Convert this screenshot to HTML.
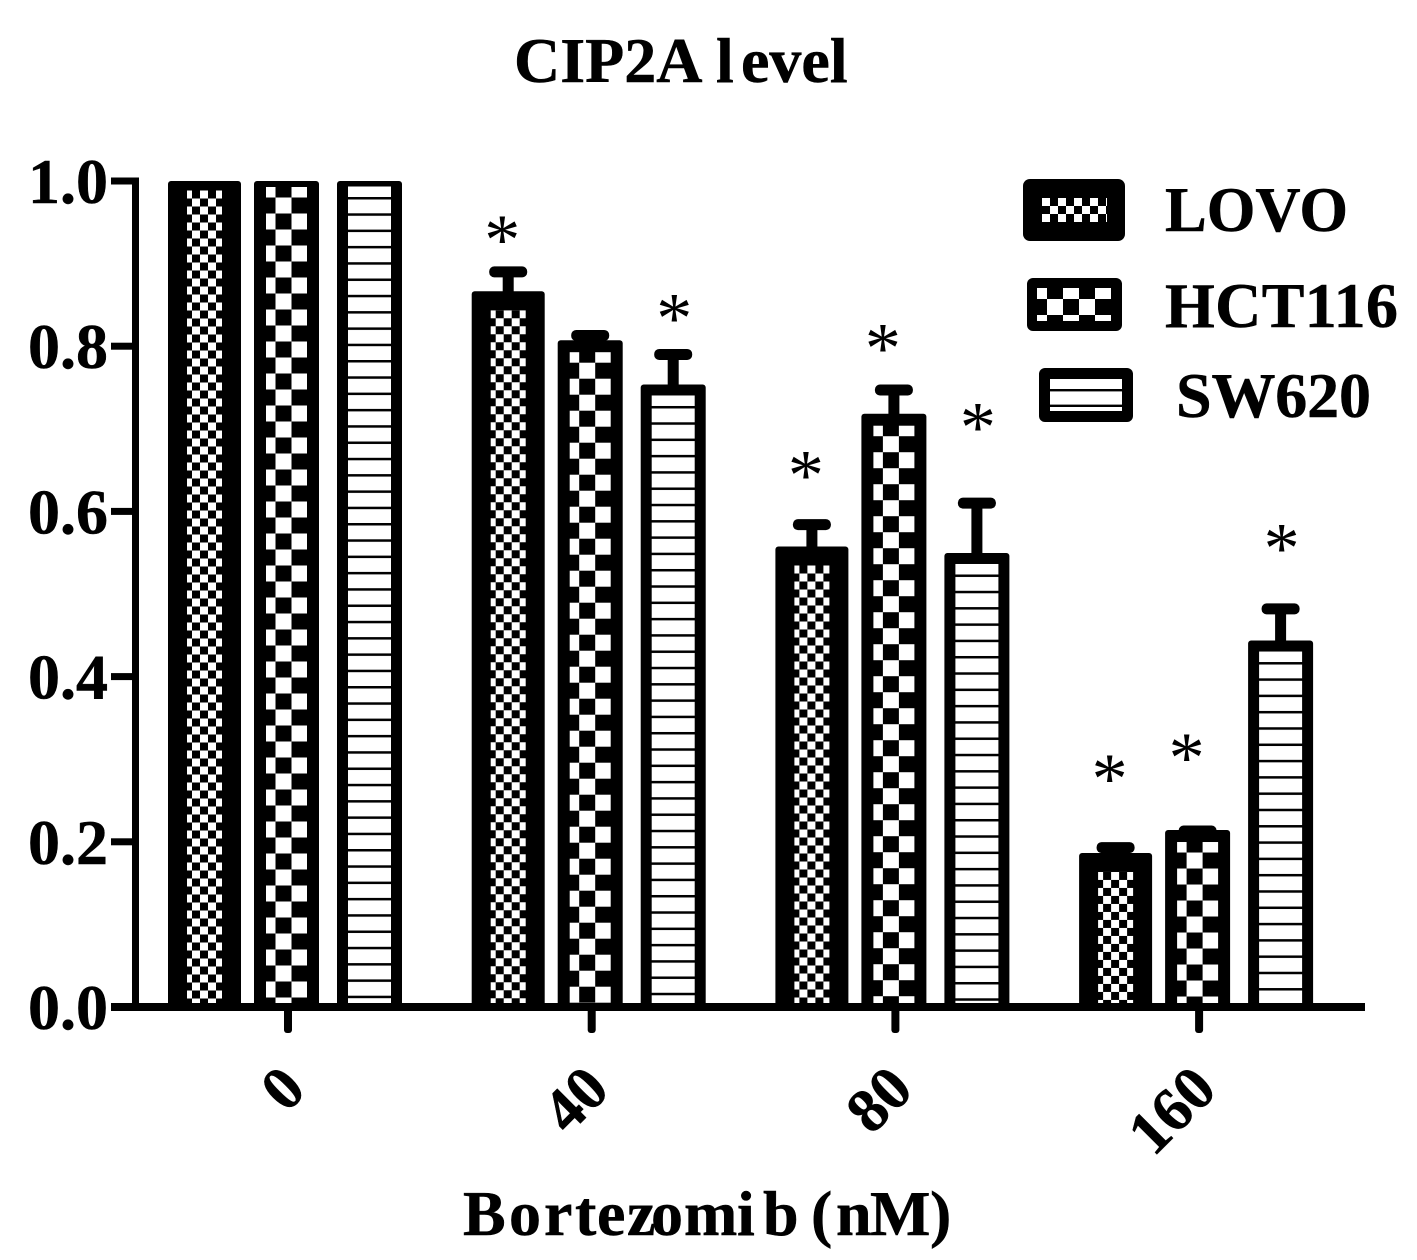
<!DOCTYPE html>
<html>
<head>
<meta charset="utf-8">
<title>CIP2A level</title>
<style>
html,body{margin:0;padding:0;background:#fff;}
svg{display:block;}
text{font-family:"Liberation Serif",serif;font-weight:bold;fill:#000;stroke:#000;stroke-width:0.5px;}
</style>
</head>
<body>
<svg id="chart" xmlns="http://www.w3.org/2000/svg" width="1417" height="1260" viewBox="0 0 1417 1260">
  <defs id="defs">
    <pattern id="legend-check-small" patternUnits="userSpaceOnUse" x="1042" y="198" width="16" height="16">
      <rect width="16" height="16" fill="#fff"/><rect x="8" width="8" height="8" fill="#000"/><rect y="8" width="8" height="8" fill="#000"/>
    </pattern>
    <pattern id="legend-check-large" patternUnits="userSpaceOnUse" x="1031" y="283" width="32" height="32">
      <rect width="32" height="32" fill="#fff"/><rect x="16" width="16" height="16" fill="#000"/><rect y="16" width="16" height="16" fill="#000"/>
    </pattern>
  </defs>
  <rect width="1417" height="1260" fill="#fff"/>
  <text y="82" font-size="64"><tspan x="514">CIP2A </tspan><tspan x="716">l</tspan><tspan x="741">evel</tspan></text>
  <g id="bars"></g>
  <g id="axes"></g>
  <g id="stars"></g>
  <text x="463 509 544 575 597 627 651 684 737 763 790 811 836 870 930" y="1235" font-size="64">Bortezomib (nM)</text>

  <g>
    <g>
      <rect x="1023" y="179" width="102" height="62" rx="7" fill="#000"/>
      <rect x="1042" y="198" width="65" height="24" fill="url(#legend-check-small)"/>
      <text x="1165" y="231" font-size="64" textLength="183" lengthAdjust="spacingAndGlyphs">LOVO</text>
    </g>
    <g>
      <rect x="1027" y="278" width="95" height="53" rx="6" fill="#000"/>
      <rect x="1037" y="288" width="74" height="33" fill="url(#legend-check-large)"/>
      <text x="1165" y="327" font-size="64" textLength="233" lengthAdjust="spacing">HCT116</text>
    </g>
    <g>
      <rect x="1039" y="368" width="94" height="54" rx="6" fill="#000"/>
      <rect x="1050" y="379" width="72" height="32" fill="#fff"/>
      <rect x="1050" y="389" width="72" height="2.4" fill="#000"/>
      <rect x="1050" y="404.6" width="72" height="2.4" fill="#000"/>
      <text x="1176" y="417" font-size="64" textLength="195" lengthAdjust="spacing">SW620</text>
    </g>
  </g>
</svg>
<script>
// ---- data ----
var doses = ['0', '40', '80', '160'];
var seriesNames = ['LOVO', 'HCT116', 'SW620'];
var lovoMeans = [1, 0.855, 0.546, 0.175];
var hct116Means = [1, 0.80, 0.711, 0.207];
var sw620Means = [1, 0.747, 0.543, 0.437];
var lovoErrors = [0, 0.035, 0.038, 0.018];
var hct116Errors = [0, 0.013, 0.036, 0.006];
var sw620Errors = [0, 0.043, 0.067, 0.045];
// height of each "*" marker on the y scale; null = no marker
var lovoStars = [null, 0.938, 0.653, 0.286];
var hct116Stars = [null, null, 0.807, 0.311];
var sw620Stars = [null, 0.843, 0.711, 0.565];
var yTickLabels = ['0.0', '0.2', '0.4', '0.6', '0.8', '1.0'];

// ---- layout ----
var NS = 'http://www.w3.org/2000/svg';
var means = [lovoMeans, hct116Means, sw620Means];
var errors = [lovoErrors, hct116Errors, sw620Errors];
var stars = [lovoStars, hct116Stars, sw620Stars];
var slug = ['lovo', 'hct116', 'sw620'];
var style = {
  width: [73, 65, 65],
  stroke: [19, 12, 11],
  offset: [-83.5, -1.5, 81.5],
  starShift: [-6, -11, 1]
};
var plot = { y0: 1007, y1: 181, xFirst: 288, xStep: 303.7 };

function yScale(v) { return plot.y0 - v * (plot.y0 - plot.y1); }
function xGroup(i) { return plot.xFirst + i * plot.xStep; }
function xBar(i, s) { return xGroup(i) + style.offset[s]; }

function make(tag, attrs, parent) {
  var el = document.createElementNS(NS, tag);
  for (var k in attrs) el.setAttribute(k, attrs[k]);
  parent.appendChild(el);
  return el;
}

var defs = document.getElementById('defs');
function barPattern(s, i, left, top) {
  var id = 'fill-' + s + '-' + i;
  var p;
  if (s === 0 || s === 1) {
    var c = s === 0 ? 8 : 16;
    var firstCol = s === 0 ? 5 : 9.5;
    var firstRow = s === 0 ? 8 : 10.5;
    p = make('pattern', { id: id, patternUnits: 'userSpaceOnUse',
      x: left + firstCol - c, y: top + firstRow - c, width: c * 2, height: c * 2 }, defs);
    make('rect', { width: c * 2, height: c * 2, fill: '#fff' }, p);
    make('rect', { x: c, width: c, height: c, fill: '#000' }, p);
    make('rect', { y: c, width: c, height: c, fill: '#000' }, p);
  } else {
    p = make('pattern', { id: id, patternUnits: 'userSpaceOnUse',
      x: left, y: top + 10.5, width: 20, height: 16.3 }, defs);
    make('rect', { width: 20, height: 16.3, fill: '#fff' }, p);
    make('rect', { width: 20, height: 2.5, fill: '#000' }, p);
  }
  return id;
}

// ---- bars and error bars ----
var barsG = document.getElementById('bars');
means.forEach(function (series, s) {
  series.forEach(function (v, i) {
    var cx = xBar(i, s);
    var w = style.width[s];
    var sw = style.stroke[s];
    var left = cx - w / 2;
    var top = Math.max(yScale(v) - sw / 2, plot.y1);
    var innerTop = yScale(v) + sw / 2;
    var innerLeft = left + sw;
    var innerBottom = plot.y0 - 4;

    var e = errors[s][i];
    if (e > 0) {
      var capY = yScale(v + e);
      var stem = make('rect', { x: cx - 5.5, y: capY, width: 11, height: yScale(v) - capY, fill: '#000' }, barsG);
      
      
      var cap = make('rect', { x: cx - 19, y: capY - 5.5, width: 38, height: 11, rx: 5, fill: '#000' }, barsG);
      
      
    }

    var outer = make('rect', { x: left, y: top, width: w, height: plot.y0 - top, rx: 3, fill: '#000' }, barsG);
    
    

    var pid = barPattern(s, i, innerLeft, innerTop);
    var inner = make('rect', { x: innerLeft, y: innerTop, width: w - 2 * sw,
      height: Math.max(0, innerBottom - innerTop), fill: 'url(#' + pid + ')' }, barsG);
    
    
  });
});

// ---- significance markers ----
var starsG = document.getElementById('stars');
stars.forEach(function (series, s) {
  series.forEach(function (v, i) {
    if (v === null) return;
    var t = make('text', { x: xBar(i, s) + style.starShift[s], y: yScale(v) + 32,
      'text-anchor': 'middle', 'font-size': 72, style: 'font-weight:normal;stroke:none' }, starsG);
    
    
    t.textContent = '*';
  });
});

// ---- axes ----
var axesG = document.getElementById('axes');
var yLine = make('rect', { x: 132, y: plot.y1 - 3.5, width: 7, height: plot.y0 - plot.y1 + 7, fill: '#000' }, axesG);


var xLine = make('rect', { x: 111, y: plot.y0 - 4, width: 1254, height: 8, fill: '#000' }, axesG);



yTickLabels.forEach(function (label) {
  var v = parseFloat(label);
  var tick = make('rect', { x: 111, y: yScale(v) - 3.5, width: 26, height: 7, fill: '#000' }, axesG);
  
  
  var t = make('text', { x: 108, y: yScale(v) + 22, 'text-anchor': 'end', 'font-size': 64 }, axesG);
  
  
  t.textContent = label;
});

doses.forEach(function (label, i) {
  var x = xGroup(i);
  var tick = make('rect', { x: x - 4, y: plot.y0, width: 8, height: 26, rx: 3, fill: '#000' }, axesG);
  
  
  var px = x + 20, py = 1092;
  var t = make('text', { x: px, y: py, 'text-anchor': 'end', 'font-size': 62,
    transform: 'rotate(-45 ' + px + ' ' + py + ')' }, axesG);
  
  
  t.textContent = label;
});
</script>
</body>
</html>
